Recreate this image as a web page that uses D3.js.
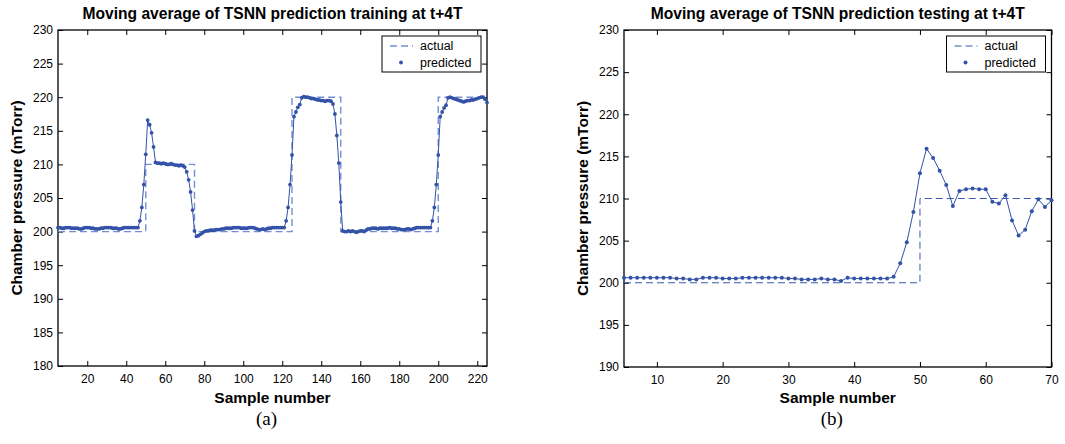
<!DOCTYPE html>
<html><head>
<meta charset="utf-8">
<title>TSNN moving average</title>
<script src="https://cdn.jsdelivr.net/npm/d3@7/dist/d3.min.js"></script>
<style>
  body { margin: 0; background: #fff; }
  svg { display: block; font-family: "Liberation Sans", Arial, Helvetica, sans-serif; }
  .tick line { stroke: #000; stroke-width: 1; }
  .tick text { font-family: "Liberation Sans", Arial, Helvetica, sans-serif; font-size: 12px; fill: #000; }
  .frame { fill: none; stroke: #000; stroke-width: 1.3; }
  .ttl { font-size: 15.6px; font-weight: bold; }
  .lbl { font-size: 15.5px; font-weight: bold; }
  .cap { font-family: "Liberation Serif", "Times New Roman", serif; font-size: 19px; }
  .leg text { font-size: 12.5px; }
</style>
</head>
<body>
<svg id="chart" width="1065" height="444"></svg>

<script>
// ---- data ----
var trainStart = 5
// predicted pressure for samples 5..225 (training)
var trainPred = [
  200.6, 200.6, 200.5, 200.5, 200.6, 200.6, 200.6, 200.5, 200.5, 200.5,   // 5
  200.5, 200.4, 200.4, 200.5, 200.6, 200.6, 200.6, 200.5, 200.5, 200.4,   // 15
  200.4, 200.4, 200.5, 200.5, 200.6, 200.6, 200.6, 200.6, 200.5, 200.5,   // 25
  200.5, 200.4, 200.4, 200.5, 200.6, 200.6, 200.6, 200.6, 200.6, 200.6,   // 35
  200.6, 200.6,                                                           // 45
  201.6, 203.6, 207.0, 211.5, 216.6, 215.9, 214.7, 212.6, 210.3, 210.2,   // 47
  210.2, 210.1, 210.2, 210.1, 210.0, 210.0, 210.1, 210.0, 209.9, 209.9,   // 57
  209.8, 209.9, 209.8, 209.6, 208.9, 207.7, 205.9, 203.2, 200.1, 199.3,   // 67
  199.4, 199.6, 199.8, 200.0, 200.1, 200.1, 200.2, 200.2, 200.2, 200.3,   // 77
  200.3, 200.3, 200.4, 200.4, 200.5, 200.5, 200.5, 200.5, 200.6, 200.6,   // 87
  200.6, 200.6, 200.5, 200.5, 200.5, 200.5, 200.6, 200.6, 200.6, 200.5,   // 97
  200.4, 200.3, 200.3, 200.4, 200.3, 200.4, 200.5, 200.5, 200.6, 200.6,   // 107
  200.6, 200.6, 200.6, 200.6, 200.6,                                      // 117
  201.6, 203.6, 207.0, 211.4, 217.1, 217.8, 218.5, 218.9, 219.9, 220.1,   // 122
  220.0, 220.0, 219.9, 219.8, 219.8, 219.7, 219.6, 219.6, 219.5, 219.5,   // 132
  219.4, 219.5, 219.5, 219.4, 219.0, 217.5, 214.3, 210.2, 204.4, 200.1,   // 142
  200.0, 200.0, 200.1, 200.0, 200.1, 200.0, 199.9, 200.0, 200.1, 200.1,   // 152
  200.0, 200.2, 200.4, 200.4, 200.5, 200.5, 200.5, 200.4, 200.5, 200.5,   // 162
  200.5, 200.5, 200.5, 200.6, 200.5, 200.5, 200.5, 200.4, 200.4, 200.3,   // 172
  200.3, 200.3, 200.4, 200.4, 200.3, 200.4, 200.5, 200.6, 200.6, 200.6,   // 182
  200.6, 200.6, 200.6, 200.6, 200.6,                                      // 192
  201.6, 203.6, 207.0, 211.4, 217.1, 217.8, 218.4, 218.8, 219.9, 220.0,   // 197
  219.9, 219.8, 219.7, 219.6, 219.5, 219.4, 219.3, 219.4, 219.5, 219.5,   // 207
  219.6, 219.6, 219.7, 219.8, 219.9, 220.0, 220.0, 219.7, 219.2           // 217
]
var trainActualX = [5, 50, 50, 75, 75, 125, 125, 150, 150, 200, 200, 225]
var trainActualY = [200, 200, 210, 210, 200, 200, 220, 220, 200, 200, 220, 220]

var testStart = 5
// predicted pressure for samples 5..70 (testing)
var testPred = [
  200.6, 200.6, 200.6, 200.6, 200.6, 200.6, 200.6, 200.6, 200.5, 200.5,   // 5
  200.4, 200.4, 200.6, 200.6, 200.6, 200.5, 200.5, 200.5, 200.6, 200.6,   // 15
  200.6, 200.6, 200.6, 200.6, 200.6, 200.5, 200.5, 200.4, 200.4, 200.4,   // 25
  200.5, 200.4, 200.4, 200.2, 200.6, 200.5, 200.5, 200.5, 200.5, 200.5,   // 35
  200.5, 200.7, 202.3, 204.8, 208.4, 213.0, 215.9, 214.8, 213.3, 211.6,   // 45
  209.1, 210.9, 211.1, 211.2, 211.1, 211.1, 209.6, 209.4, 210.4, 207.4,   // 55
  205.6, 206.3, 208.5, 209.9, 209.0, 209.8                                // 65
]
var testActualX = [5, 50, 50, 70]
var testActualY = [200, 200, 210, 210]

var trainXTicks = [20, 40, 60, 80, 100, 120, 140, 160, 180, 200, 220]
var trainYTicks = [180, 185, 190, 195, 200, 205, 210, 215, 220, 225, 230]
var testXTicks = [10, 20, 30, 40, 50, 60, 70]
var testYTicks = [190, 195, 200, 205, 210, 215, 220, 225, 230]

var legendNames = ["actual", "predicted"]

var lineColor = "#3352a8"

var svg = d3.select("#chart")

function drawPanel(p) {
  var x = d3.scaleLinear().domain(p.xDomain).range([p.left, p.right])
  var y = d3.scaleLinear().domain(p.yDomain).range([p.bottom, p.top])
  var g = svg.append("g")

  // axes, ticks pointing inwards
  g.append("g").attr("transform", "translate(0," + p.bottom + ")")
    .call(d3.axisBottom(x).tickValues(p.xTicks).tickSize(-5).tickPadding(8))
  g.append("g").attr("transform", "translate(0," + p.top + ")")
    .call(d3.axisTop(x).tickValues(p.xTicks).tickSize(-5).tickFormat(""))
  g.append("g").attr("transform", "translate(" + p.left + ",0)")
    .call(d3.axisLeft(y).tickValues(p.yTicks).tickSize(-5).tickPadding(5))
  g.append("g").attr("transform", "translate(" + p.right + ",0)")
    .call(d3.axisRight(y).tickValues(p.yTicks).tickSize(-5).tickFormat(""))
  g.selectAll(".domain").remove()

  g.append("rect").classed("frame", true)
    .attr("x", p.left).attr("y", p.top)
    .attr("width", p.right - p.left).attr("height", p.bottom - p.top)

  // actual (dashed step)
  var act = p.actX.map(function(v, i) { return [v, p.actY[i]] })
  g.append("path")
    .attr("d", d3.line().x(function(d) { return x(d[0]) }).y(function(d) { return y(d[1]) })(act))
    .attr("fill", "none").attr("stroke", p.dashColor)
    .attr("stroke-width", p.dashWidth).attr("stroke-dasharray", "7,4")

  // predicted (line + dots)
  var pred = p.pred.map(function(v, i) { return [p.start + i, v] })
  g.append("path")
    .attr("d", d3.line().x(function(d) { return x(d[0]) }).y(function(d) { return y(d[1]) })(pred))
    .attr("fill", "none").attr("stroke", lineColor).attr("stroke-width", 1)
  g.selectAll("circle.pt").data(pred).enter().append("circle")
    .classed("pt", true)
    .attr("cx", function(d) { return x(d[0]) })
    .attr("cy", function(d) { return y(d[1]) })
    .attr("r", p.dotR).attr("fill", lineColor)

  // title and labels
  var cx = (p.left + p.right) / 2
  g.append("text").classed("ttl", true).attr("x", cx).attr("y", 18.5)
    .attr("text-anchor", "middle").text(p.title)
  g.append("text").classed("lbl", true).attr("x", cx).attr("y", 403)
    .attr("text-anchor", "middle").text("Sample number")
  g.append("text").classed("lbl", true)
    .attr("transform", "translate(" + (p.left - 36) + "," + ((p.top + p.bottom) / 2) + ") rotate(-90)")
    .attr("text-anchor", "middle").text("Chamber pressure (mTorr)")
  g.append("text").classed("cap", true).attr("x", cx - 6).attr("y", 425)
    .attr("text-anchor", "middle").text(p.caption)

  // legend
  var lw = 99, lh = 36
  var lx = p.right - 6 - lw, ly = p.top + 6
  var leg = g.append("g").classed("leg", true).attr("transform", "translate(" + lx + "," + ly + ")")
  leg.append("rect").attr("width", lw).attr("height", lh)
    .attr("fill", "#fff").attr("stroke", "#000").attr("stroke-width", 1)
  leg.append("line").attr("x1", 8).attr("x2", 31).attr("y1", 10).attr("y2", 10)
    .attr("stroke", p.dashColor).attr("stroke-width", p.dashWidth).attr("stroke-dasharray", "7,4")
  leg.append("circle").attr("cx", 19).attr("cy", 26.5).attr("r", p.dotR).attr("fill", lineColor)
  leg.selectAll("text").data(legendNames).enter().append("text")
    .attr("x", 38).attr("y", function(d, i) { return 14 + i * 16.5 }).text(function(d) { return d })
}

drawPanel({
  left: 58, right: 487, top: 30, bottom: 366,
  xDomain: [5, 225], yDomain: [180, 230],
  xTicks: trainXTicks, yTicks: trainYTicks,
  pred: trainPred, start: trainStart,
  actX: trainActualX, actY: trainActualY,
  dashColor: "#7290d2", dashWidth: 1.4, dotR: 1.9,
  title: "Moving average of TSNN prediction training at t+4T",
  caption: "(a)"
})

drawPanel({
  left: 624, right: 1051.5, top: 30, bottom: 367,
  xDomain: [5, 70], yDomain: [190, 230],
  xTicks: testXTicks, yTicks: testYTicks,
  pred: testPred, start: testStart,
  actX: testActualX, actY: testActualY,
  dashColor: "#3a58ac", dashWidth: 1, dotR: 2,
  title: "Moving average of TSNN prediction testing at t+4T",
  caption: "(b)"
})
</script>
</body>
</html>
